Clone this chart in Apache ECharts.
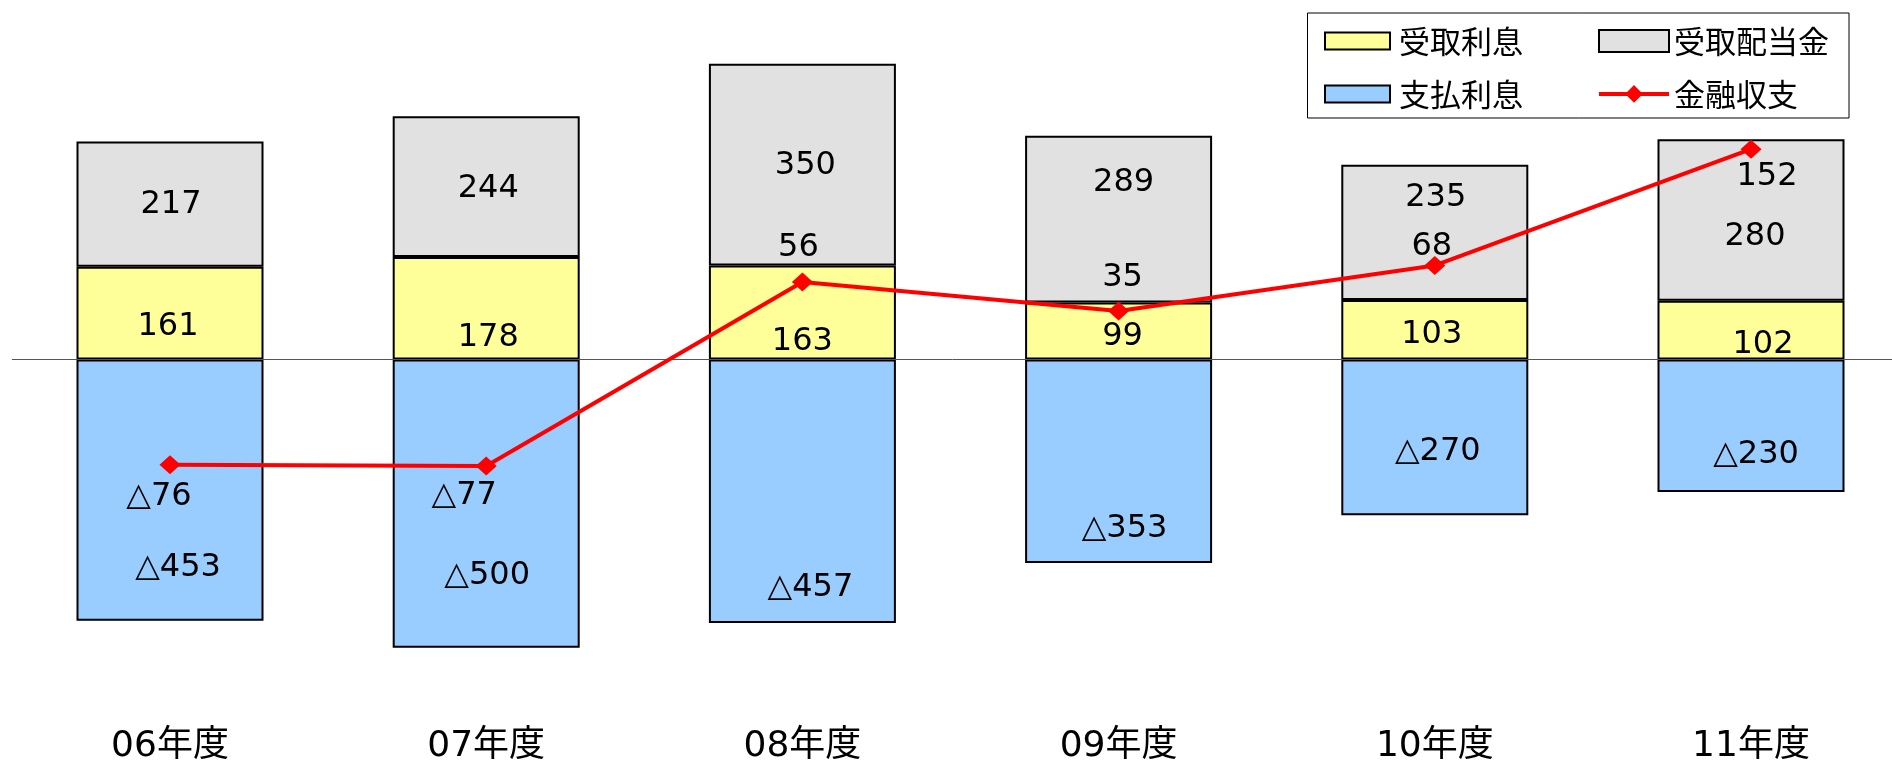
<!DOCTYPE html>
<html>
<head>
<meta charset="utf-8">
<script src="https://cdn.jsdelivr.net/npm/echarts@6/dist/echarts.min.js"></script>
<style>
html,body{margin:0;padding:0;background:#fff;}
#chart{width:1892px;height:763px;}
</style>
</head>
<body>
<div id="chart"></div>
<script>
// ---- data ----
const categories = ['06年度', '07年度', '08年度', '09年度', '10年度', '11年度'];
const interestReceived = [161, 178, 163, 99, 103, 102];      // 受取利息
const dividendsReceived = [217, 244, 350, 289, 235, 280];    // 受取配当金
const interestPaid = [-453, -500, -457, -353, -270, -230];   // 支払利息
const financialBalance = [-76, -77, 56, 35, 68, 152];        // 金融収支
const seriesNames = ['受取利息', '受取配当金', '支払利息', '金融収支'];

// ---- label nudges (styling, px) ----
const yellowNudge = [[-2, 14], [2, 29], [0, 29], [4, 6], [-3, 5], [12, 15]];
const grayNudge = [[1, 1], [2, 2], [3, 1], [5, -36], [1, -35], [4, 17]];
const blueNudge = [[8, 78], [1, 72], [8, 96], [6, 67], [3, 14], [5, 29]];
const lineNudge = [[-11, 32], [-22, 30], [-4, -34], [4, -33], [-3, -19], [16, 27]];

const numFont = "'DejaVu Sans', 'Noto Sans CJK JP', sans-serif";
const cjkFont = "'Noto Sans CJK JP', 'DejaVu Sans', sans-serif";
const fmt = v => (v < 0 ? '△' + Math.abs(v) : String(v));

function withNudge(values, nudges) {
  return values.map((v, i) => ({ value: v, label: { offset: nudges[i] } }));
}

const barLabel = {
  show: true,
  position: 'inside',
  color: '#000',
  fontSize: 32,
  fontFamily: numFont,
  formatter: p => fmt(p.value)
};
const barBorder = { borderColor: '#000', borderWidth: 2 };

const chart = echarts.init(document.getElementById('chart'), null, { renderer: 'canvas' });
chart.setOption({
  animation: false,
  backgroundColor: '#fff',
  grid: {
    left: 11.9, width: 1897.2, top: 13.6, bottom: 57.6,
    containLabel: false, outerBoundsMode: 'none'
  },
  xAxis: {
    type: 'category',
    data: categories,
    axisLine: { show: false },
    axisTick: { show: false },
    splitLine: { show: false },
    axisLabel: { color: '#000', fontSize: 36, fontFamily: numFont, margin: 23 }
  },
  yAxis: [
    { type: 'value', min: -600, max: 600, show: false, splitLine: { show: false } },
    { type: 'value', min: -250, max: 250, show: false, splitLine: { show: false } }
  ],
  legend: [
    {
      data: [{ name: seriesNames[0], icon: 'rect' }, { name: seriesNames[2], icon: 'rect' }],
      orient: 'vertical',
      left: 1319, top: 20.4,
      itemWidth: 65, itemHeight: 17, itemGap: 22,
      textStyle: { fontSize: 31, fontFamily: cjkFont, color: '#000', lineHeight: 30, padding: [0, 0, 0, 4] }
    },
    {
      data: [{ name: seriesNames[1], icon: 'rect' }, { name: seriesNames[3] }],
      orient: 'vertical',
      left: 1592, top: 20.4,
      itemWidth: 70, itemHeight: 22, itemGap: 22,
      lineStyle: { width: 4 },
      textStyle: { fontSize: 31, fontFamily: cjkFont, color: '#000', lineHeight: 30, padding: [0, 0, 0, 0] }
    }
  ],
  graphic: [
    {
      type: 'rect',
      silent: true,
      shape: { x: 1307.5, y: 13, width: 541.5, height: 105 },
      style: { fill: 'transparent', stroke: '#000', lineWidth: 1 }
    }
  ],
  series: [
    {
      name: seriesNames[0],
      type: 'bar',
      stack: 'fin',
      barWidth: 187,
      data: withNudge(interestReceived, yellowNudge),
      itemStyle: Object.assign({ color: '#FFFF99' }, barBorder),
      label: barLabel
    },
    {
      name: seriesNames[1],
      type: 'bar',
      stack: 'fin',
      barWidth: 187,
      data: withNudge(dividendsReceived, grayNudge),
      itemStyle: Object.assign({ color: '#E1E1E1' }, barBorder),
      label: barLabel
    },
    {
      name: seriesNames[2],
      type: 'bar',
      stack: 'fin',
      barWidth: 187,
      data: withNudge(interestPaid, blueNudge),
      itemStyle: Object.assign({ color: '#99CCFF' }, barBorder),
      label: barLabel,
      markLine: {
        silent: true,
        symbol: ['none', 'none'],
        label: { show: false },
        lineStyle: { color: '#555', width: 1, type: 'solid' },
        data: [{ yAxis: 0 }]
      }
    },
    {
      name: seriesNames[3],
      type: 'line',
      yAxisIndex: 1,
      z: 5,
      data: withNudge(financialBalance, lineNudge),
      symbol: 'diamond',
      symbolSize: [21, 19],
      itemStyle: { color: '#FF0000' },
      lineStyle: { color: '#FF0000', width: 4 },
      label: {
        show: true,
        position: 'inside',
        color: '#000',
        fontSize: 32,
        fontFamily: numFont,
        formatter: p => fmt(p.value)
      }
    }
  ]
});
</script>
</body>
</html>
